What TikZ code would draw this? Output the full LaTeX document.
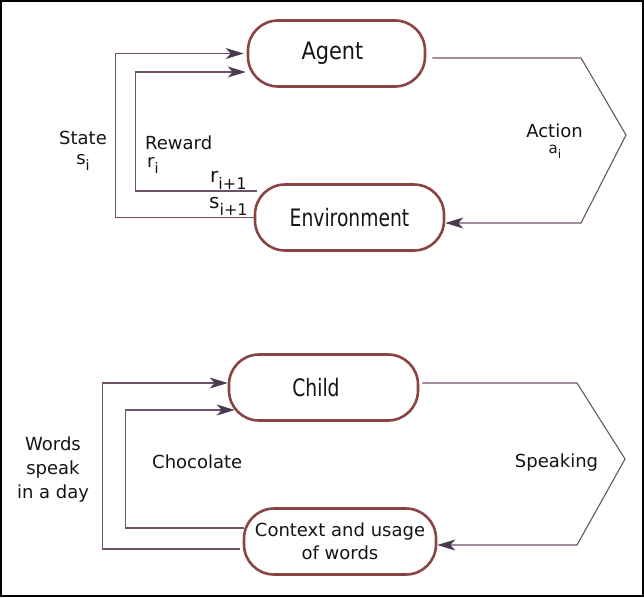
\documentclass[tikz,border=0pt]{standalone}
\usepackage{fontspec}
\setmainfont{DejaVu Sans}
\newfontfamily\condfont[FakeStretch=0.78]{DejaVu Sans}
\newfontfamily\condfontwide[FakeStretch=0.87]{DejaVu Sans}
\usetikzlibrary{arrows.meta}
\definecolor{boxc}{HTML}{8A4444}
\definecolor{linec}{HTML}{6E5068}
\definecolor{arrc}{HTML}{4B3A52}
\definecolor{txtc}{HTML}{141414}
\newcommand{\sbs}[1]{\raisebox{-0.36em}{\scalebox{0.8}{#1}}}
\tikzset{
  stadium/.style={draw=boxc, line width=2.6pt, rounded corners=30pt, minimum height=66pt,
    inner sep=0pt, text=txtc, font=\condfont\fontsize{24}{28}\selectfont},
  conn/.style={draw=linec, line width=1.1pt,
    -{Stealth[length=18pt,width=11pt,inset=5pt,color=arrc]}},
  lbl/.style={text=txtc, inner sep=0pt, font=\fontsize{18}{22}\selectfont},
}
\begin{document}
\begin{tikzpicture}[x=1pt,y=-1pt]
\useasboundingbox (0,0) rectangle (644,597);
\draw[black, line width=2pt] (1,1) rectangle (643,596);

% top diagram
\node[stadium, minimum width=177pt, font=\condfontwide\fontsize{24}{28}\selectfont] (agent) at (336.5,53.5) {\hspace*{-8pt}Agent};
\node[stadium, minimum width=189pt] (env) at (349.5,217.5) {Environment};

\draw[conn] (env.west) -- ++(-138,0) |- ([xshift=-3pt]agent.west);
\draw[conn] ([xshift=3pt,yshift=26.5pt]env.west) -- ++(-121,0) |- ([xshift=-1pt,yshift=-18.5pt]agent.west);
\draw[conn] ([xshift=6pt,yshift=-4.5pt]agent.east) -- (581,58) -- (626,135) -- (581,223) -- ([yshift=-5.5pt]env.east);

\node[lbl, anchor=base] (state) at (83,144) {State};
\node[lbl, anchor=base] (statesub) at (83,164) {s\sbs{i}};
\node[lbl, anchor=base west] (reward) at (145,149) {Reward};
\node[lbl, anchor=base west] (rewardsub) at (147,167) {r\sbs{i}};
\node[lbl, anchor=base west, font=\fontsize{20}{24}\selectfont] (rnext) at (210,182) {r\sbs{i+1}};
\node[lbl, anchor=base west, font=\fontsize{20}{24}\selectfont] (snext) at (209,208) {s\sbs{i+1}};
\node[lbl, anchor=base] (action) at (554.5,137) {Action};
\node[lbl, anchor=base, font=\fontsize{15}{18}\selectfont] (actionsub) at (555,153) {a\sbs{i}};

% bottom diagram
\node[stadium, minimum width=189pt] (child) at (323.5,387.5) {\hspace*{-15pt}Child};
\node[stadium, minimum width=192pt, align=center, font=\fontsize{18}{23}\selectfont] (ctx) at (340,541.5) {Context and usage\\of words};

\draw[conn] ([xshift=-3pt,yshift=-7.5pt]ctx.west) -- ++(-137,0) |- ([yshift=4.5pt]child.west);
\draw[conn] ([xshift=1pt,yshift=13.5pt]ctx.west) -- ++(-118,0) |- ([xshift=7pt,yshift=-22.5pt]child.west);
\draw[conn] ([xshift=3pt,yshift=4.5pt]child.east) -- (577,383) -- (625,459) -- (577,545) -- ([yshift=-3.5pt]ctx.east);

\node[lbl, anchor=base] (words1) at (53,450) {Words};
\node[lbl, anchor=base] (words2) at (53,474) {speak};
\node[lbl, anchor=base] (words3) at (53,498) {in a day};
\node[lbl, anchor=base west] (choco) at (152,468) {Chocolate};
\node[lbl, anchor=base] (speak) at (556.5,467) {Speaking};
\end{tikzpicture}
\end{document}
